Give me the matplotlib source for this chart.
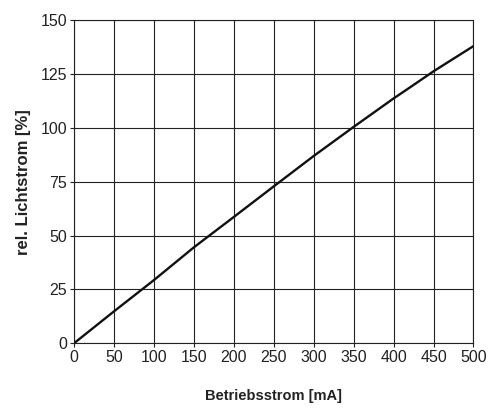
import matplotlib
matplotlib.use("Agg")
import matplotlib.pyplot as plt

# Betriebsstrom [mA] vs. rel. Lichtstrom [%]
current_ma = [0, 50, 100, 150, 200, 250, 300, 350, 400, 420, 450, 500]
flux_pct = [0, 14.8, 29.3, 44.5, 58.6, 72.8, 86.9, 100.4, 113.6, 118.6, 126.2, 137.9]

x_ticks = [0, 50, 100, 150, 200, 250, 300, 350, 400, 450, 500]
y_ticks = [0, 25, 50, 75, 100, 125, 150]

plt.rcParams['font.family'] = ['Liberation Sans', 'DejaVu Sans']

fig = plt.figure(figsize=(4.89, 4.08), dpi=100)
ax = fig.add_axes([0.1513, 0.1586, 0.8170, 0.7924])

ax.plot(current_ma, flux_pct, color='#111111', linewidth=1.7, zorder=3)

ax.set_xlim(0, 500)
ax.set_ylim(0, 150)
ax.set_xticks(x_ticks)
ax.set_yticks(y_ticks)
ax.grid(True, color='#222222', linewidth=0.8)
ax.set_axisbelow(True)

for side in ax.spines:
    ax.spines[side].set_color('#222222')
    ax.spines[side].set_linewidth(0.8)

ax.tick_params(direction='out', length=3, width=0.8, color='#222222',
               labelsize=11.5, pad=2, labelcolor='#222222')

ax.set_xlabel("Betriebsstrom [mA]", fontsize=10.5, fontweight='bold',
              labelpad=17, color='#222222')
ax.set_ylabel("rel. Lichtstrom [%]", fontsize=12, fontweight='bold',
              labelpad=7, color='#222222')

fig.savefig("out.png", dpi=100)
